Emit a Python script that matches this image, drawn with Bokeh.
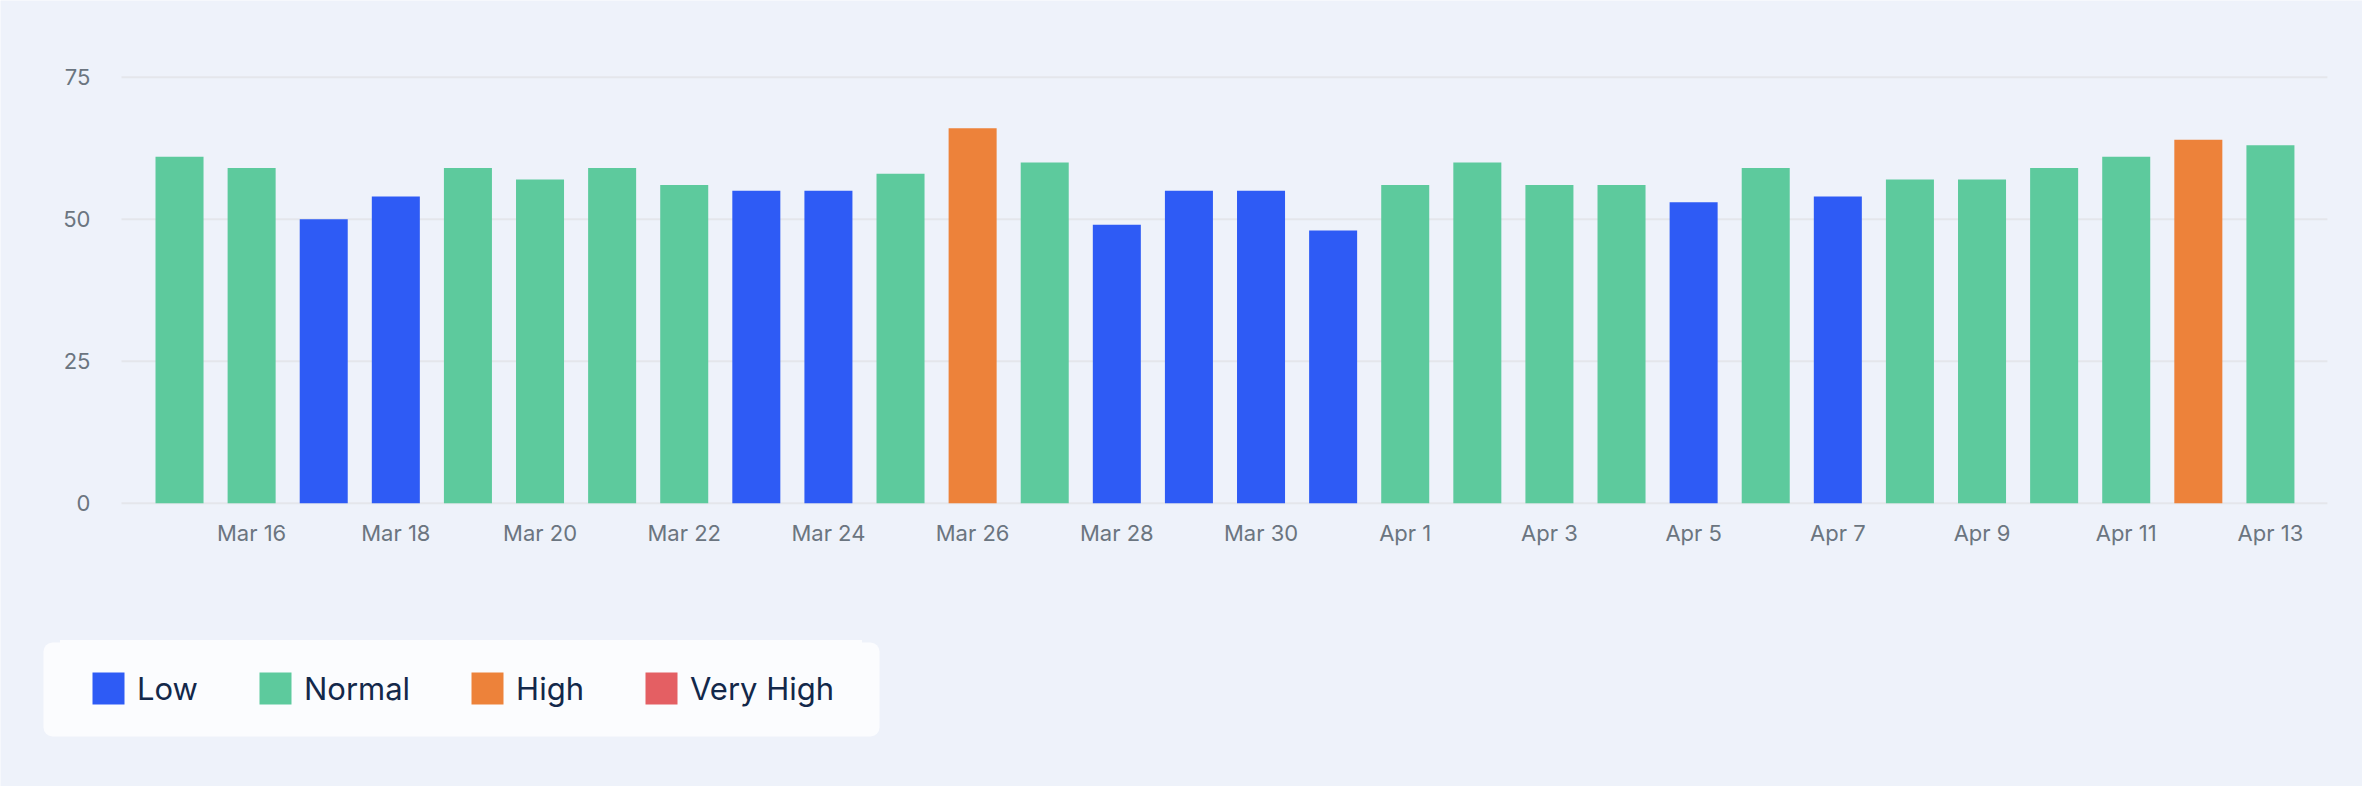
from bokeh.plotting import figure
from bokeh.models import (ColumnDataSource, Range1d, FixedTicker, Legend, LegendItem,
                          BoxAnnotation)
from bokeh.embed import file_html
from bokeh.resources import INLINE

# ---- data ----
dates = ["Mar 15", "Mar 16", "Mar 17", "Mar 18", "Mar 19", "Mar 20", "Mar 21", "Mar 22",
         "Mar 23", "Mar 24", "Mar 25", "Mar 26", "Mar 27", "Mar 28", "Mar 29", "Mar 30",
         "Mar 31", "Apr 1", "Apr 2", "Apr 3", "Apr 4", "Apr 5", "Apr 6", "Apr 7",
         "Apr 8", "Apr 9", "Apr 10", "Apr 11", "Apr 12", "Apr 13"]
values = [61, 59, 50, 54, 59, 57, 59, 56, 55, 55, 58, 66, 60, 49, 55, 55,
          48, 56, 60, 56, 56, 53, 59, 54, 57, 57, 59, 61, 64, 63]
levels = ["Normal", "Normal", "Low", "Low", "Normal", "Normal", "Normal", "Normal",
          "Low", "Low", "Normal", "High", "Normal", "Low", "Low", "Low",
          "Low", "Normal", "Normal", "Normal", "Normal", "Low", "Normal", "Low",
          "Normal", "Normal", "Normal", "Normal", "High", "Normal"]
categories = ["Low", "Normal", "High", "Very High"]
colors = ["#2e5bf5", "#5dca9d", "#ed823a", "#e45f63"]
y_ticks = [0, 25, 50, 75]

BG = "#eef2fa"
BOX = "#fbfcfe"
W, H = 2362, 786

# full-canvas frame; the plot area is a sub-region of it
X0, X1 = -2.483, 30.277
Y0, Y1 = -49.88, 88.5
X_LEFT, X_RIGHT = -0.805, 29.79


def dx(sx):
    return X0 + (X1 - X0) * sx / W


def dy(sy):
    return Y1 - (Y1 - Y0) * sy / H


p = figure(width=W, height=H, output_backend="svg", toolbar_location=None,
           x_range=Range1d(X0, X1), y_range=Range1d(Y0, Y1), min_border=0)
p.background_fill_color = BG
p.border_fill_color = BG
p.outline_line_color = None
p.xgrid.grid_line_color = None
p.ygrid.grid_line_color = None

# horizontal grid lines at the y ticks, limited to the plot area
p.segment(x0=[X_LEFT] * len(y_ticks), x1=[X_RIGHT] * len(y_ticks),
          y0=y_ticks, y1=y_ticks, line_color="#e4e6eb", line_width=2)

idx = list(range(len(dates)))
items = []
for cat, col in zip(categories, colors):
    xs = [i for i, l in zip(idx, levels) if l == cat]
    ys = [v for v, l in zip(values, levels) if l == cat]
    if xs:
        src = ColumnDataSource(dict(x=xs, top=ys))
        r = p.vbar(x="x", top="top", bottom=0, width=0.666, source=src,
                   fill_color=col, line_color=None)
    else:
        # category with no days: hidden renderer only provides the legend swatch
        src = ColumnDataSource(dict(x=idx, top=values))
        r = p.vbar(x="x", top="top", bottom=0, width=0.666, source=src,
                   fill_color=col, line_color=None, visible=False)
    items.append(LegendItem(label=cat, renderers=[r]))

p.yaxis.ticker = FixedTicker(ticks=y_ticks)
p.xaxis.ticker = FixedTicker(ticks=idx[1::2])
p.xaxis.major_label_overrides = {i: dates[i] for i in idx}
p.xaxis.fixed_location = 0
p.yaxis.fixed_location = X_LEFT

for ax in (p.xaxis[0], p.yaxis[0]):
    ax.axis_line_color = None
    ax.major_tick_line_color = None
    ax.minor_tick_line_color = None
    ax.major_tick_out = 0
    ax.major_tick_in = 0
    ax.major_label_text_font = "Inter"
    ax.major_label_text_font_size = "22px"
    ax.major_label_text_color = "#6b7580"
p.yaxis.major_label_standoff = 31
p.xaxis.major_label_standoff = 17

# legend card
card = BoxAnnotation(left=dx(43), right=dx(879), top=dy(642), bottom=dy(736),
                     fill_color=BOX, fill_alpha=1.0, line_color=None,
                     border_radius=9)
p.add_layout(card)

legend = Legend(items=items, orientation="horizontal", location=(60, 50),
                margin=0, padding=27, spacing=57, label_standoff=9,
                glyph_width=40, glyph_height=40,
                label_text_font="Inter", label_text_font_size="31px",
                label_text_color="#13284a",
                background_fill_color=BOX, background_fill_alpha=1.0,
                border_line_color=BOX, border_line_alpha=1.0, border_line_width=1)
p.add_layout(legend, "center")

open("out.html", "w").write(file_html(p, INLINE))
